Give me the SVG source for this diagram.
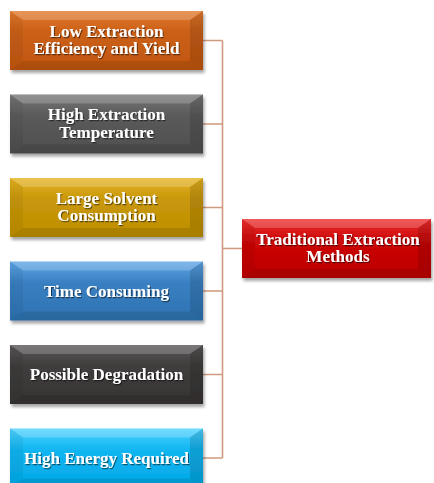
<svg xmlns="http://www.w3.org/2000/svg" xmlns:xlink="http://www.w3.org/1999/xlink" width="434" height="483" viewBox="0 0 434 483">
  <style>
    .label { font-family: "Liberation Serif", "Times New Roman", serif; font-weight: bold; font-size: 17px; fill: #ffffff; text-anchor: middle; filter: url(#textShadow); }
    .wire { fill: none; stroke: #D09A7E; stroke-width: 1.6; }
    .box { filter: url(#boxShadow); }
  </style>
  <defs>
    <filter id="boxShadow" x="-10%" y="-20%" width="125%" height="150%">
      <feDropShadow dx="1.5" dy="3" stdDeviation="1.8" flood-color="#000000" flood-opacity="0.35"/>
    </filter>
    <filter id="textShadow" x="-10%" y="-30%" width="120%" height="160%">
      <feDropShadow dx="1" dy="1.2" stdDeviation="0.7" flood-color="#000000" flood-opacity="0.55"/>
    </filter>
    <linearGradient id="gOrange" x1="0" y1="0" x2="0" y2="1">
      <stop offset="0" stop-color="#E27A2E"/><stop offset="0.35" stop-color="#CB6018"/><stop offset="1" stop-color="#C0560F"/>
    </linearGradient>
    <linearGradient id="gGray" x1="0" y1="0" x2="0" y2="1">
      <stop offset="0" stop-color="#767676"/><stop offset="0.35" stop-color="#5B5B5B"/><stop offset="1" stop-color="#4E4E4E"/>
    </linearGradient>
    <linearGradient id="gGold" x1="0" y1="0" x2="0" y2="1">
      <stop offset="0" stop-color="#E6B322"/><stop offset="0.35" stop-color="#C9980A"/><stop offset="1" stop-color="#BD8E00"/>
    </linearGradient>
    <linearGradient id="gBlue" x1="0" y1="0" x2="0" y2="1">
      <stop offset="0" stop-color="#5EA6E6"/><stop offset="0.35" stop-color="#3A80C2"/><stop offset="1" stop-color="#2D72B2"/>
    </linearGradient>
    <linearGradient id="gDark" x1="0" y1="0" x2="0" y2="1">
      <stop offset="0" stop-color="#595656"/><stop offset="0.35" stop-color="#403D3D"/><stop offset="1" stop-color="#363333"/>
    </linearGradient>
    <linearGradient id="gCyan" x1="0" y1="0" x2="0" y2="1">
      <stop offset="0" stop-color="#4FD2FF"/><stop offset="0.35" stop-color="#12B6F2"/><stop offset="1" stop-color="#00A8E6"/>
    </linearGradient>
    <linearGradient id="gRed" x1="0" y1="0" x2="0" y2="1">
      <stop offset="0" stop-color="#EE3030"/><stop offset="0.35" stop-color="#CC0808"/><stop offset="1" stop-color="#BC0000"/>
    </linearGradient>
    <!-- angled bevel overlay for the 193 x 59 cause boxes -->
    <g id="bevel">
      <polygon points="0,0 193,0 180,9 13,9" fill="#ffffff" opacity="0.2"/>
      <polygon points="0,0 13,9 13,50 0,59" fill="#000000" opacity="0.05"/>
      <polygon points="193,0 180,9 180,50 193,59" fill="#000000" opacity="0.12"/>
      <polygon points="0,59 13,50 180,50 193,59" fill="#000000" opacity="0.1"/>
    </g>
    <!-- same bevel for the 189 x 59 result box -->
    <g id="bevelWide">
      <polygon points="0,0 189,0 176,9 13,9" fill="#ffffff" opacity="0.2"/>
      <polygon points="0,0 13,9 13,50 0,59" fill="#000000" opacity="0.05"/>
      <polygon points="189,0 176,9 176,50 189,59" fill="#000000" opacity="0.12"/>
      <polygon points="0,59 13,50 176,50 189,59" fill="#000000" opacity="0.1"/>
    </g>
  </defs>

  <rect width="434" height="483" fill="#ffffff"/>

  <!-- connectors: bracket joining each cause to the result box -->
  <g id="connectors">
    <path class="wire" d="M203,40.5 H222.5 M203,124 H222.5 M203,207.5 H222.5 M203,291 H222.5 M203,374.5 H222.5 M203,458 H222.5"/>
    <path class="wire" d="M222.5,40.5 V458"/>
    <path class="wire" d="M222.5,248.5 H242"/>
  </g>

  <g id="node-low-efficiency" class="box">
    <rect x="10" y="11" width="193" height="59" fill="url(#gOrange)"/>
    <use xlink:href="#bevel" x="10" y="11"/>
    <text class="label" x="106.5" y="36.7">Low Extraction</text>
    <text class="label" x="106.5" y="54.3">Efficiency and Yield</text>
  </g>

  <g id="node-high-temperature" class="box">
    <rect x="10" y="94.5" width="193" height="59" fill="url(#gGray)"/>
    <use xlink:href="#bevel" x="10" y="94.5"/>
    <text class="label" x="106.5" y="120.2">High Extraction</text>
    <text class="label" x="106.5" y="137.8">Temperature</text>
  </g>

  <g id="node-solvent" class="box">
    <rect x="10" y="178" width="193" height="59" fill="url(#gGold)"/>
    <use xlink:href="#bevel" x="10" y="178"/>
    <text class="label" x="106.5" y="203.7">Large Solvent</text>
    <text class="label" x="106.5" y="221.3">Consumption</text>
  </g>

  <g id="node-time" class="box">
    <rect x="10" y="261.5" width="193" height="59" fill="url(#gBlue)"/>
    <use xlink:href="#bevel" x="10" y="261.5"/>
    <text class="label" x="106.5" y="296.9">Time Consuming</text>
  </g>

  <g id="node-degradation" class="box">
    <rect x="10" y="345" width="193" height="59" fill="url(#gDark)"/>
    <use xlink:href="#bevel" x="10" y="345"/>
    <text class="label" x="106.5" y="380.4">Possible Degradation</text>
  </g>

  <g id="node-energy" class="box">
    <rect x="10" y="428.5" width="193" height="59" fill="url(#gCyan)"/>
    <use xlink:href="#bevel" x="10" y="428.5"/>
    <text class="label" x="106.5" y="463.9">High Energy Required</text>
  </g>

  <g id="node-traditional" class="box">
    <rect x="242" y="219" width="189" height="59" fill="url(#gRed)"/>
    <use xlink:href="#bevelWide" x="242" y="219"/>
    <text class="label" x="338" y="244.7">Traditional Extraction</text>
    <text class="label" x="338" y="262.3">Methods</text>
  </g>
</svg>
